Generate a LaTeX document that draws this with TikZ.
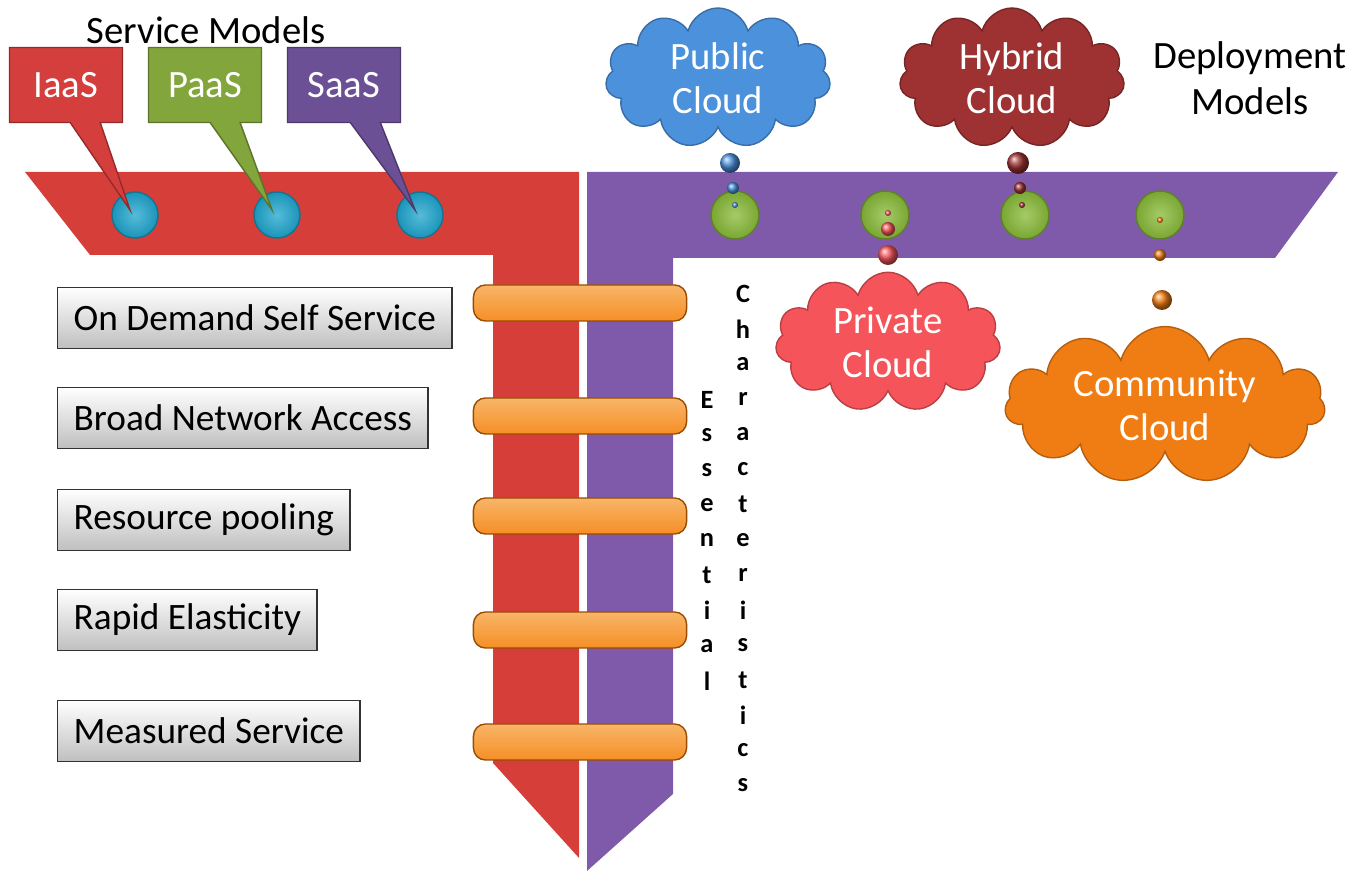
\documentclass[tikz,border=0pt]{standalone}
\usepackage{fontspec}
\setmainfont{Carlito}
\usetikzlibrary{shapes.symbols,shapes.callouts}
\definecolor{bandred}{RGB}{214,62,58}
\definecolor{bandpurple}{RGB}{128,90,170}
\definecolor{ballblue}{RGB}{30,165,205}
\definecolor{ballgreen}{RGB}{135,185,55}
\definecolor{barorange}{RGB}{245,150,40}
\definecolor{iaasred}{RGB}{212,62,60}
\definecolor{paasgreen}{RGB}{130,165,60}
\definecolor{saaspurple}{RGB}{108,80,150}
\definecolor{publicblue}{RGB}{75,145,220}
\definecolor{hybridred}{RGB}{158,50,50}
\definecolor{privatered}{RGB}{245,85,90}
\definecolor{communityorange}{RGB}{240,125,20}

\begin{document}
\begin{tikzpicture}[x=0.01cm, y=-0.01cm,
    featbox/.style={draw=black!80, top color=white, bottom color=black!25, minimum height=6.1mm, inner xsep=1.6mm, anchor=west, font=\fontsize{10.6}{12}\selectfont},
    rung/.style={draw=orange!60!black, rounded corners=1.2mm, top color=barorange!70!white, bottom color=barorange!95!red, minimum width=2.13cm, minimum height=3.6mm},
    modelbox/.style={rectangle callout, draw=#1!70!black, fill=#1, text=white, minimum width=1.13cm, minimum height=7.5mm, callout pointer width=3mm, font=\fontsize{11}{13}\selectfont},
    bead/.style={circle, inner sep=0pt, minimum size=4.6mm, draw=#1!70!black, inner color=#1!75!white, outer color=#1!90!black},
    puff/.style={cloud, cloud puffs=11, aspect=2, inner sep=0pt, draw=#1!75!black, fill=#1, text=white, align=center, minimum width=2.25cm, minimum height=1.38cm, font=\fontsize{11}{12.5}\selectfont},
    letter/.style={inner sep=0pt, font=\fontsize{7.5}{8}\bfseries\selectfont}]
      \useasboundingbox (0,0) rectangle (1360,871);
      \fill [bandred] (25,172) -- (579,172) -- (579,858) -- (493,763) -- (493,255) -- (90,255) -- cycle;
      \fill [bandpurple] (587,172) -- (1338,172) -- (1275,258) -- (673,258) -- (673,794) -- (587,871) -- cycle;
      \node [bead=ballblue] (ia) at (135,215) {};
      \node [bead=ballblue] (pa) at (277,215) {};
      \node [bead=ballblue] (sa) at (420,215) {};
      \node [modelbox=iaasred, callout absolute pointer={([shift={(-5,-5)}]ia.center)}] (iaas) at (66,85) {IaaS};
      \node [modelbox=paasgreen, callout absolute pointer={([shift={(-5,-5)}]pa.center)}] (paas) at (205,85) {PaaS};
      \node [modelbox=saaspurple, callout absolute pointer={([shift={(-5,-5)}]sa.center)}] (saas) at (344,85) {SaaS};
      \node [font=\fontsize{11}{13}\selectfont] (svc) at (206,30) {Service Models};
      \foreach \x [count=\i] in {735,885,1025,1160}
        \node [bead=ballgreen, minimum size=4.8mm] (dep\i) at (\x,215) {};
      \foreach \x/\y/\r in {730/163/10, 733/188/6, 735/205/3}
        \shade [ball color=publicblue] (\x,\y) circle (\r);
      \foreach \x/\y/\r in {1018/163/11, 1020/188/6, 1022/205/3}
        \shade [ball color=hybridred] (\x,\y) circle (\r);
      \foreach \x/\y/\r in {888/213/3, 888/229/7, 888/255/10}
        \shade [ball color=privatered] (\x,\y) circle (\r);
      \foreach \x/\y/\r in {1160/220/3, 1160/255/6, 1162/300/10}
        \shade [ball color=communityorange] (\x,\y) circle (\r);
      \node [puff=publicblue] (pub) at (718,78) {Public\\Cloud};
      \node [puff=hybridred] (hyb) at (1012,78) {Hybrid\\Cloud};
      \node [puff=privatered] (priv) at (888,342) {Private\\Cloud};
      \node [puff=communityorange, aspect=2.8, minimum width=3.2cm, minimum height=1.25cm] (comm) at (1165,405) {Community\\Cloud};
      \node [align=center, font=\fontsize{11}{13}\selectfont] (dm) at (1250,78) {Deployment\\Models};
      \node [featbox] (f1) at (57,318) {On Demand Self Service};
      \node [featbox] (f2) at (57,418) {Broad Network Access};
      \node [featbox] (f3) at (57,520) {Resource pooling};
      \node [featbox] (f4) at (57,620) {Rapid Elasticity};
      \node [featbox] (f5) at (57,731) {Measured Service};
      \foreach \y [count=\i] in {303,416,516,630,742}
        \node [rung] (bar\i) at (580,\y) {};
      \foreach \l [count=\i] in {E,s,s,e,n,t,i,a,l}
        \node [letter] (ess\i) at (707,{400+35.1*(\i-1)}) {\l};
      \foreach \l [count=\i] in {C,h,a,r,a,c,t,e,r,i,s,t,i,c,s}
        \node [letter] (chr\i) at (743,{294+35.1*(\i-1)}) {\l};
    \end{tikzpicture}
\end{document}
